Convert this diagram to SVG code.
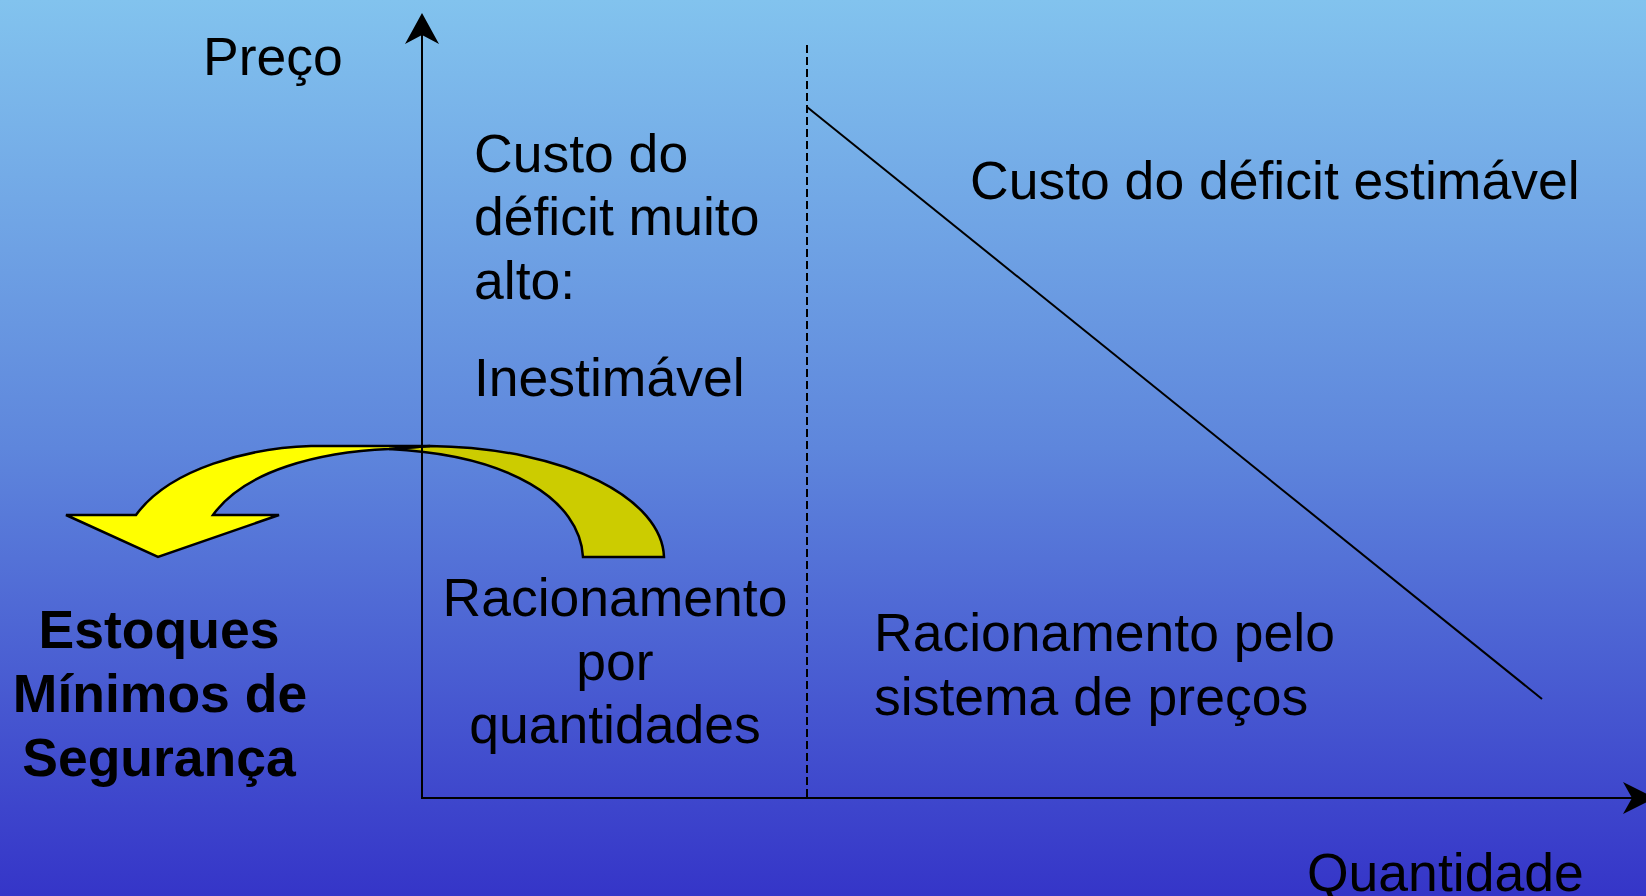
<svg xmlns="http://www.w3.org/2000/svg" width="1646" height="896" viewBox="0 0 1646 896">
  <defs>
    <linearGradient id="bg" x1="0" y1="0" x2="0" y2="1">
      <stop offset="0" stop-color="#82C3EE"/>
      <stop offset="0.5" stop-color="#5E86DC"/>
      <stop offset="1" stop-color="#3535C8"/>
    </linearGradient>
  </defs>
  <style>
    .t { font-family: "Liberation Sans", Arial, sans-serif; font-size: 53.5px; fill: #000; }
    .b { font-weight: bold; }
    .ax { stroke: #000; stroke-width: 2; fill: none; }
    .head { fill: #000; }
  </style>
  <rect x="0" y="0" width="1646" height="896" fill="url(#bg)"/>

  <g id="curved-arrow" stroke="#000" stroke-width="2.5" stroke-linejoin="miter">
    <path d="M 389 449 L 430 446 C 570 448, 662 500, 664 557 L 583 557 C 580 500, 510 455, 389 449 Z" fill="#CCCC00"/>
    <path d="M 66 515 L 136 515 C 170 468, 250 448, 311 446 L 430 446 L 389 449 C 320 452, 245 470, 213 515 L 279 515 L 158 557 Z" fill="#FFFF00"/>
  </g>

  <g id="connectors">
    <line class="ax" x1="422" y1="799" x2="422" y2="30"/>
    <path class="head" d="M 422 13 L 439 44 L 422 35 L 405 44 Z"/>
    <line class="ax" x1="421" y1="798" x2="1635" y2="798"/>
    <path class="head" d="M 1655 798 L 1623 814 L 1632 798 L 1623 782 Z"/>
    <line class="ax" x1="807" y1="45" x2="807" y2="798" stroke-dasharray="8 4"/>
    <line class="ax" x1="807" y1="107" x2="1542" y2="699"/>
  </g>

  <g id="label-preco"><text class="t" x="203" y="75">Preço</text></g>
  <g id="label-quantidade"><text class="t" x="1307" y="891">Quantidade</text></g>
  <g id="label-inestimavel">
    <text class="t" x="474" y="172">Custo do</text>
    <text class="t" x="474" y="235">déficit muito</text>
    <text class="t" x="474" y="299">alto:</text>
    <text class="t" x="474" y="396">Inestimável</text>
  </g>
  <g id="label-estimavel"><text class="t" x="970" y="199">Custo do déficit estimável</text></g>
  <g id="label-estoques">
    <text class="t b" x="159" y="648" text-anchor="middle">Estoques</text>
    <text class="t b" x="160" y="712" text-anchor="middle">Mínimos de</text>
    <text class="t b" x="159" y="776" text-anchor="middle">Segurança</text>
  </g>
  <g id="label-quantidades">
    <text class="t" x="615" y="616" text-anchor="middle">Racionamento</text>
    <text class="t" x="615" y="680" text-anchor="middle">por</text>
    <text class="t" x="615" y="743" text-anchor="middle">quantidades</text>
  </g>
  <g id="label-precos">
    <text class="t" x="874" y="651">Racionamento pelo</text>
    <text class="t" x="874" y="715">sistema de preços</text>
  </g>
</svg>
